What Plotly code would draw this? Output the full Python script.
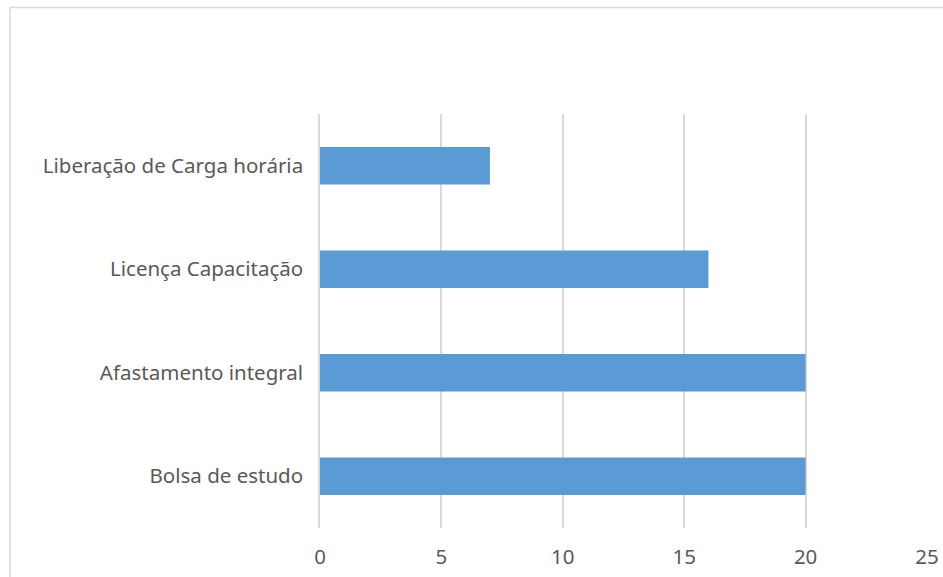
import plotly.graph_objects as go

categories = ["Bolsa de estudo", "Afastamento integral", "Licença Capacitação", "Liberação de Carga horária"]
values = [20, 20, 16, 7]
x_ticks = [0, 5, 10, 15, 20, 25]

W, H = 943, 577
L, R, T, B = 319.5, 15.5, 114, 49
pw, ph = W - L - R, H - T - B

def px_x(p):  # screen pixel -> paper
    return (p - L) / pw

def px_y(p):
    return (T + ph - p) / ph

fig = go.Figure(go.Bar(
    x=values, y=categories, orientation="h",
    marker=dict(color="#5B9BD5", line=dict(width=0)),
    width=0.36,
))

fig.update_layout(
    autosize=False,
    width=W, height=H,
    margin=dict(l=L, r=R, t=T, b=B, pad=0, autoexpand=False),
    paper_bgcolor="white", plot_bgcolor="white",
    font=dict(family="Noto Sans", size=20.5, color="#595959"),
    showlegend=False,
    bargap=0.64,
    xaxis=dict(range=[0, 25], tickvals=x_ticks, showgrid=True, gridcolor="#D9D9D9",
               gridwidth=1.5, zeroline=False, showline=False, ticks="",
               ticklabelstandoff=14, fixedrange=True, automargin=False),
    yaxis=dict(categoryorder="array", categoryarray=categories, showgrid=False,
               zeroline=False, showline=True, linecolor="#D9D9D9", linewidth=1.5, ticks="",
               ticklabelstandoff=11, fixedrange=True, automargin=False),
    shapes=[dict(type="rect", xref="paper", yref="paper",
                 x0=px_x(9), x1=px_x(960), y0=px_y(600), y1=px_y(7.5),
                 line=dict(color="#D9D9D9", width=1.5), fillcolor="rgba(0,0,0,0)", layer="below")],
)

fig.write_html("out.html", config={"displayModeBar": False, "responsive": False},
               post_script="document.body.style.margin='0';document.body.style.overflow='hidden';")
